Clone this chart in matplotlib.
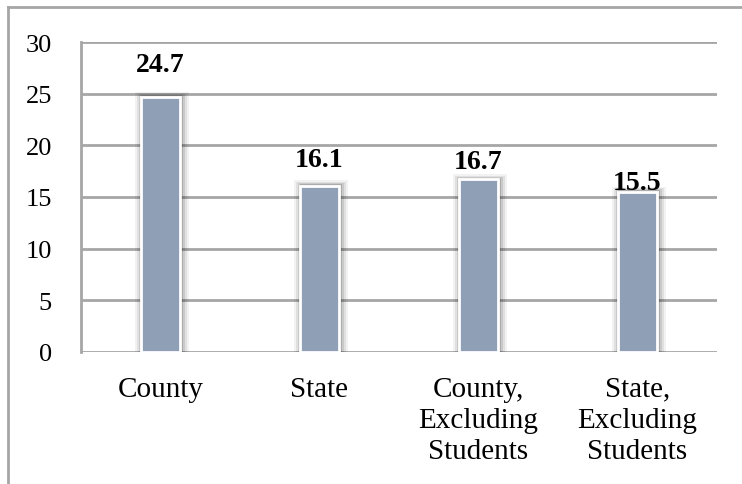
import matplotlib.pyplot as plt
from matplotlib.lines import Line2D

plt.rcParams['font.family'] = ['Liberation Serif', 'DejaVu Serif']

categories = ['County', 'State', 'County,\nExcluding\nStudents', 'State,\nExcluding\nStudents']
values = [24.7, 16.1, 16.7, 15.5]
labels = ['24.7', '16.1', '16.7', '15.5']

# label gap above each bar (value units), as placed in the original
label_gap = [2.5, 1.9, 1.1, 0.3]

W, H = 742, 485
fig = plt.figure(figsize=(W / 100, H / 100), dpi=100)
ax = fig.add_axes([81 / W, 1 - 353 / H, 636 / W, 310 / H])

x = range(len(categories))
bw = 0.24

# soft shadow behind bars
for i, v in zip(x, values):
    for k, a in enumerate([0.05, 0.07, 0.10, 0.14]):
        pad = 0.05 - k * 0.012
        ax.bar(i + 0.01, v + pad * 10, width=bw + pad * 2, color='black', alpha=a,
               linewidth=0, zorder=2)

ax.bar(x, values, width=bw, color='#8E9FB6', edgecolor='white', linewidth=2, zorder=3)

for i, v, t, g in zip(x, values, labels, label_gap):
    ax.text(i, v + g, t, ha='center', va='baseline', fontsize=20, fontweight='bold', zorder=4)

ax.set_xlim(-0.5, 3.5)
ax.set_ylim(0, 30)
ax.set_yticks(range(0, 31, 5))
ax.yaxis.grid(True, color='#A6A6A6', linewidth=2)
ax.set_axisbelow(True)
ax.set_xticks(list(x))
ax.set_xticklabels(categories, fontsize=21, linespacing=1.25)
ax.tick_params(axis='both', length=0)
ax.tick_params(axis='y', labelsize=19, pad=21)
ax.tick_params(axis='x', pad=17)

for s in ['top', 'right', 'bottom']:
    ax.spines[s].set_visible(False)
ax.spines['left'].set_color('#A6A6A6')
ax.spines['left'].set_linewidth(2)

# outer chart frame (top and left only)
fig.add_artist(Line2D([8 / W, 1], [1 - 8 / H, 1 - 8 / H], color='#A6A6A6', linewidth=2))
fig.add_artist(Line2D([8 / W, 8 / W], [0, 1 - 8 / H], color='#A6A6A6', linewidth=2))

fig.savefig('out.png', dpi=100)
